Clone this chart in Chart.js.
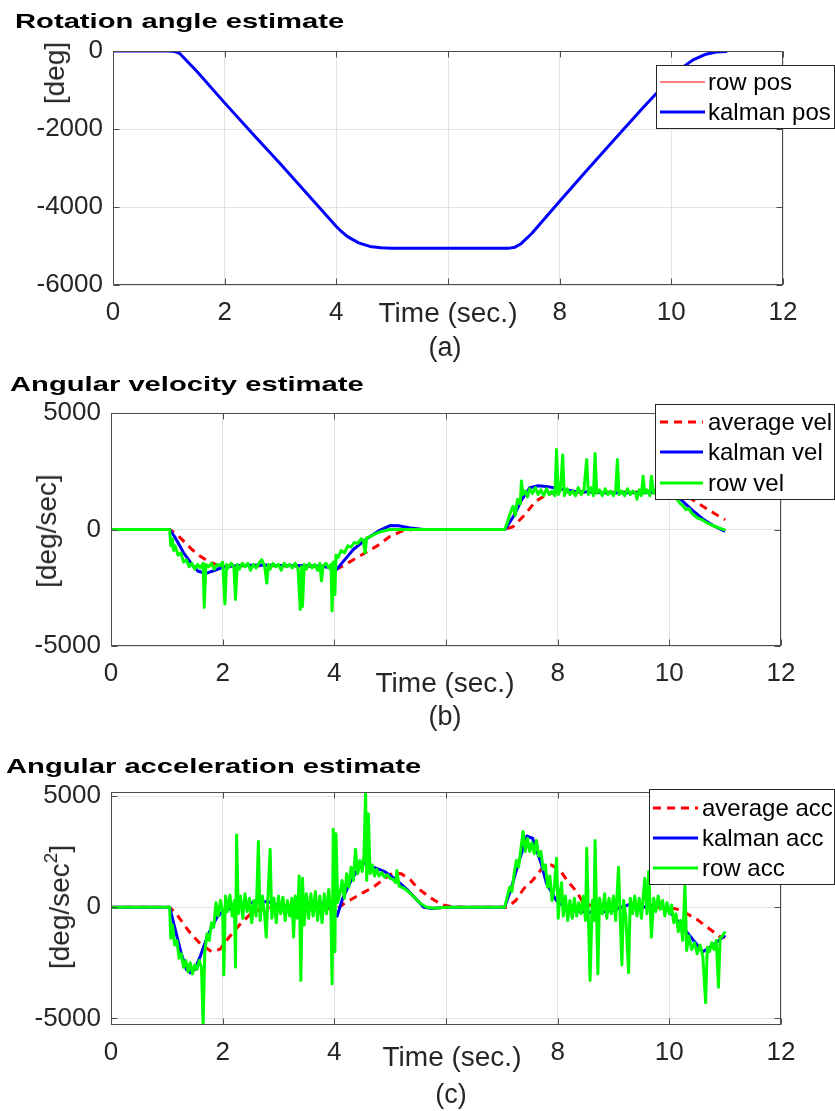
<!DOCTYPE html>
<html>
<head>
<meta charset="utf-8">
<script src="https://cdn.jsdelivr.net/npm/chart.js@4.4.0/dist/chart.umd.min.js"></script>
<style>
html,body{margin:0;padding:0;background:#fff;width:835px;height:1111px;overflow:hidden;font-family:"Liberation Sans",Arial,sans-serif;}
canvas{position:absolute;left:0;}
.t{position:absolute;z-index:2;white-space:nowrap;line-height:1;}
.title{font-weight:bold;font-size:21px;color:#000;transform-origin:0 0;transform:scaleX(1.39);}
.xl{font-size:28px;color:#262626;transform:translate(-50%,-50%);}
.cap{font-size:27px;color:#262626;transform:translate(-50%,-50%);}
.yl{font-size:28px;color:#262626;transform:translate(-50%,-50%) rotate(-90deg);}
.yl sup{font-size:19px;line-height:0;position:relative;top:-2px;}
</style>
</head>
<body>
<canvas id="cA" width="835" height="370" style="top:0px"></canvas>
<canvas id="cB" width="835" height="370" style="top:370px"></canvas>
<canvas id="cC" width="835" height="371" style="top:740px"></canvas>

<div class="t title" style="left:15px;top:10px">Rotation angle estimate</div>
<div class="t yl" style="left:55px;top:73px">[deg]</div>
<div class="t xl" style="left:448px;top:313px">Time (sec.)</div>
<div class="t cap" style="left:445px;top:347px">(a)</div>

<div class="t title" style="left:10px;top:373px">Angular velocity estimate</div>
<div class="t yl" style="left:47px;top:531px">[deg/sec]</div>
<div class="t xl" style="left:445px;top:683px">Time (sec.)</div>
<div class="t cap" style="left:445px;top:716px">(b)</div>

<div class="t title" style="left:6px;top:755px">Angular acceleration estimate</div>
<div class="t yl" style="left:60px;top:907px">[deg/sec<sup>2</sup>]</div>
<div class="t xl" style="left:452px;top:1057px">Time (sec.)</div>
<div class="t cap" style="left:451px;top:1094px">(c)</div>

<script>
// ---------------- data ----------------
const xTicks = [0, 2, 4, 6, 8, 10, 12];
const xTickLabels = ['0', '2', '4', '', '8', '10', '12'];
const posTicks = [-6000, -4000, -2000, 0];
const velTicks = [-5000, 0, 5000];
const accTicks = [-5000, 0, 5000];

const posNames = ['row pos', 'kalman pos'];
const velNames = ['average vel', 'kalman vel', 'row vel'];
const accNames = ['average acc', 'kalman acc', 'row acc'];

// (a) rotation angle [time, deg]
const kalmanPos = [[0,0],[1.0,0],[1.1,-10],[1.2,-70],[1.5,-520],[2.0,-1330],[2.5,-2120],[3.0,-2900],[3.5,-3700],[4.0,-4500],[4.1,-4640],[4.2,-4760],[4.4,-4920],[4.6,-5010],[4.8,-5045],[5.0,-5055],[6.0,-5055],[7.1,-5055],[7.2,-5030],[7.3,-4950],[7.5,-4680],[8.0,-3850],[8.5,-3040],[9.0,-2240],[9.5,-1440],[10.0,-680],[10.2,-420],[10.4,-220],[10.6,-90],[10.8,-25],[11.0,-10]];
const rowPos = [[0,0],[1.0,0],[1.1,-10],[1.2,-70],[1.5,-520],[2.0,-1330],[2.5,-2120],[3.0,-2900],[3.5,-3700],[4.0,-4500],[4.1,-4640],[4.2,-4760],[4.4,-4920],[4.6,-5010],[4.8,-5045],[5.0,-5055],[6.0,-5055],[7.1,-5055],[7.2,-5030],[7.3,-4950],[7.5,-4680],[8.0,-3850],[8.5,-3040],[9.0,-2240],[9.5,-1440],[10.0,-680],[10.2,-420],[10.4,-220],[10.6,-90],[10.8,-25],[11.0,-10]];

// (b) angular velocity [time, deg/sec]
const avgVel = [[0,0],[1.05,0],[1.2,-250],[1.3,-500],[1.45,-860],[1.6,-1150],[1.75,-1380],[1.9,-1520],[2.0,-1550],[2.5,-1560],[3.0,-1560],[3.5,-1570],[3.9,-1600],[4.02,-1730],[4.2,-1500],[4.4,-1215],[4.76,-715],[5.0,-290],[5.2,-80],[5.4,0],[7.05,0],[7.2,120],[7.4,600],[7.6,1200],[7.8,1500],[8.0,1620],[8.5,1600],[9.0,1600],[9.5,1600],[10.0,1620],[10.2,1550],[10.4,1300],[10.6,1000],[10.8,700],[11.0,420]];
const kalmanVel = [[0,0],[1.05,0],[1.15,-350],[1.3,-1000],[1.45,-1500],[1.56,-1790],[1.7,-1880],[1.85,-1760],[2.0,-1620],[2.3,-1540],[2.7,-1520],[3.0,-1540],[3.5,-1560],[3.8,-1580],[4.04,-1720],[4.15,-1400],[4.34,-860],[4.58,-400],[4.8,-50],[5.0,170],[5.15,160],[5.36,70],[5.6,0],[7.06,0],[7.21,570],[7.36,1290],[7.5,1790],[7.65,1880],[7.8,1850],[8.0,1760],[8.3,1640],[8.8,1580],[9.3,1580],[9.8,1600],[10.05,1560],[10.2,1300],[10.4,850],[10.6,450],[10.8,150],[11.0,-80]];
const rowVel = [[0,0],[1.05,0],[1.07,-700],[1.1,-400],[1.12,-900],[1.15,-700],[1.2,-1100],[1.25,-1000],[1.3,-1400],[1.35,-1300],[1.4,-1600],[1.45,-1450],[1.5,-1700],[1.55,-1500],[1.6,-1650],[1.65,-1450],[1.67,-3350],[1.7,-1500],[1.75,-1600],[1.8,-1450],[1.85,-1700],[1.9,-1500],[1.95,-1550],[2.0,-1400],[2.04,-3200],[2.07,-1500],[2.1,-1650],[2.15,-1450],[2.2,-1600],[2.23,-3000],[2.26,-1500],[2.3,-1700],[2.35,-1450],[2.4,-1600],[2.45,-1450],[2.5,-1750],[2.55,-1500],[2.6,-1650],[2.65,-1450],[2.7,-1300],[2.75,-1550],[2.79,-2300],[2.82,-1500],[2.85,-1700],[2.9,-1450],[2.95,-1600],[3.0,-1500],[3.05,-1750],[3.1,-1450],[3.15,-1600],[3.2,-1500],[3.25,-1650],[3.3,-1450],[3.35,-1700],[3.39,-3430],[3.41,-1600],[3.43,-3300],[3.46,-1500],[3.5,-1700],[3.55,-1450],[3.6,-1650],[3.65,-1500],[3.7,-1750],[3.74,-1450],[3.77,-2200],[3.8,-1550],[3.85,-1450],[3.9,-1650],[3.94,-1500],[3.96,-3500],[3.98,-1400],[4.01,-2800],[4.03,-1100],[4.07,-1200],[4.12,-900],[4.18,-1000],[4.24,-700],[4.3,-750],[4.36,-550],[4.42,-600],[4.48,-400],[4.52,-450],[4.55,-1000],[4.58,-350],[4.65,-300],[4.72,-200],[4.8,-120],[4.9,-50],[5.0,0],[7.05,0],[7.1,300],[7.15,700],[7.2,1000],[7.24,600],[7.28,1300],[7.33,1100],[7.35,2080],[7.38,1500],[7.42,1650],[7.46,1400],[7.5,1750],[7.55,1550],[7.6,1800],[7.65,1500],[7.7,1700],[7.75,1450],[7.8,1750],[7.85,1500],[7.9,1650],[7.95,1450],[7.98,3430],[8.01,1500],[8.05,1700],[8.09,3200],[8.12,1450],[8.17,1750],[8.22,1500],[8.27,1650],[8.32,1450],[8.37,1800],[8.42,1500],[8.47,1700],[8.52,3000],[8.55,1500],[8.6,1800],[8.64,1450],[8.67,3260],[8.7,1550],[8.75,1700],[8.8,1450],[8.85,1750],[8.9,1500],[8.95,1650],[9.0,1450],[9.04,1700],[9.07,3000],[9.1,1500],[9.15,1650],[9.2,1450],[9.25,1750],[9.3,1500],[9.35,1650],[9.4,1550],[9.42,1300],[9.46,1700],[9.5,1450],[9.53,2290],[9.56,1550],[9.6,1700],[9.65,1450],[9.68,2290],[9.72,1550],[9.77,1750],[9.82,1500],[9.87,1650],[9.92,1450],[9.97,1700],[10.0,1550],[10.05,1600],[10.1,1400],[10.15,1250],[10.2,1100],[10.25,1000],[10.3,850],[10.35,900],[10.4,700],[10.45,600],[10.5,500],[10.6,400],[10.7,250],[10.8,150],[10.9,60],[11.0,-30]];

// (c) angular acceleration [time, deg/sec^2]
const avgAcc = [[0,0],[1.05,0],[1.2,-400],[1.4,-1100],[1.6,-1650],[1.8,-2000],[1.95,-1900],[2.1,-1400],[2.3,-800],[2.5,-300],[2.7,-50],[3.0,0],[3.5,0],[3.9,-50],[4.0,-150],[4.2,200],[4.5,630],[4.7,900],[4.88,1250],[5.05,1540],[5.2,1500],[5.36,1230],[5.5,850],[5.65,555],[5.8,300],[5.95,100],[6.1,20],[6.3,0],[7.1,0],[7.25,300],[7.4,850],[7.55,1200],[7.74,1800],[7.88,1900],[8.04,1670],[8.2,1100],[8.34,700],[8.46,180],[8.7,0],[9.0,0],[9.5,0],[10.0,0],[10.15,-100],[10.31,-285],[10.5,-560],[10.67,-885],[10.9,-1320],[11.0,-1350]];
const kalmanAcc = [[0,0],[1.05,0],[1.15,-1000],[1.25,-2000],[1.35,-2800],[1.42,-2950],[1.5,-2800],[1.6,-2200],[1.7,-1500],[1.8,-900],[1.9,-450],[2.0,-200],[2.2,0],[2.5,200],[2.8,250],[3.0,100],[3.3,0],[3.6,100],[3.85,200],[4.0,-300],[4.05,-400],[4.15,400],[4.3,1200],[4.45,1800],[4.55,2000],[4.7,1800],[4.9,1600],[5.1,1250],[5.3,800],[5.45,400],[5.6,0],[5.75,-60],[6.0,0],[7.05,0],[7.15,700],[7.3,2000],[7.45,3200],[7.55,3100],[7.62,2570],[7.7,2000],[7.8,1070],[7.98,290],[8.22,-135],[8.4,-200],[8.7,-250],[9.0,-135],[9.3,135],[9.6,0],[9.8,150],[9.95,-50],[10.19,-735],[10.43,-1490],[10.6,-2010],[10.79,-1700],[11.0,-1260]];
const rowAcc = [[0,0],[1.05,0],[1.07,-1400],[1.1,-800],[1.14,-1700],[1.18,-1500],[1.22,-2300],[1.26,-2100],[1.3,-2700],[1.34,-2400],[1.38,-2900],[1.42,-2500],[1.46,-3000],[1.5,-2600],[1.54,-2800],[1.58,-2400],[1.62,-2700],[1.65,-5300],[1.68,-2000],[1.72,-1200],[1.76,-1500],[1.8,-700],[1.84,-900],[1.88,200],[1.92,-400],[1.96,300],[2.0,-200],[2.02,-3050],[2.05,500],[2.09,-200],[2.13,550],[2.17,-400],[2.21,300],[2.23,-2700],[2.25,3250],[2.28,-300],[2.32,500],[2.36,-500],[2.4,600],[2.44,-200],[2.48,400],[2.52,-700],[2.56,300],[2.6,-400],[2.64,2950],[2.67,-600],[2.71,500],[2.75,-300],[2.78,-1350],[2.81,400],[2.85,2600],[2.88,-500],[2.92,400],[2.96,-700],[3.0,500],[3.04,-300],[3.08,450],[3.12,-600],[3.16,300],[3.2,-400],[3.24,400],[3.27,-1350],[3.3,500],[3.34,-500],[3.37,1400],[3.4,-3300],[3.43,1300],[3.46,-800],[3.5,600],[3.54,-500],[3.58,600],[3.62,-400],[3.66,700],[3.7,-600],[3.74,500],[3.78,-700],[3.82,600],[3.86,-300],[3.9,800],[3.94,-400],[3.96,-3450],[3.98,3500],[4.01,-2000],[4.03,3300],[4.06,200],[4.1,600],[4.14,1200],[4.18,400],[4.22,1500],[4.26,900],[4.3,1800],[4.34,1200],[4.38,2600],[4.42,1500],[4.46,2100],[4.5,1600],[4.53,2300],[4.56,5200],[4.58,1200],[4.61,4200],[4.64,1500],[4.68,1900],[4.72,1400],[4.76,1700],[4.8,1400],[4.85,1550],[4.9,1350],[4.95,1450],[5.0,1300],[5.05,1250],[5.1,1100],[5.12,1650],[5.16,950],[5.25,850],[5.35,650],[5.45,400],[5.55,150],[5.65,0],[5.8,-50],[6.0,0],[7.05,0],[7.1,500],[7.14,900],[7.18,700],[7.22,1500],[7.26,2100],[7.3,1800],[7.34,2600],[7.38,3400],[7.42,2500],[7.46,3100],[7.5,2500],[7.54,2900],[7.58,2400],[7.62,3000],[7.66,2300],[7.7,2500],[7.74,1700],[7.78,1900],[7.82,900],[7.86,1400],[7.9,300],[7.94,900],[7.98,2200],[8.01,-500],[8.04,600],[8.07,1100],[8.1,-400],[8.14,500],[8.18,-600],[8.22,300],[8.26,-500],[8.3,400],[8.34,-400],[8.38,200],[8.42,-300],[8.46,500],[8.5,-600],[8.52,2650],[8.55,-400],[8.58,-3300],[8.62,300],[8.65,-600],[8.67,3000],[8.72,-3000],[8.75,400],[8.8,-300],[8.84,600],[8.88,-500],[8.92,400],[8.96,-300],[9.0,500],[9.04,-600],[9.09,1800],[9.12,-500],[9.15,-2600],[9.18,300],[9.22,-400],[9.27,-2950],[9.3,400],[9.34,-300],[9.38,500],[9.42,-400],[9.46,400],[9.5,-500],[9.56,1300],[9.6,-300],[9.63,1600],[9.68,-1350],[9.72,400],[9.76,-200],[9.8,500],[9.84,-100],[9.88,300],[9.92,-400],[9.96,200],[10.0,-300],[10.04,100],[10.08,-700],[10.12,-300],[10.16,-1100],[10.2,-600],[10.24,-1500],[10.28,1000],[10.31,-1950],[10.35,-1300],[10.4,-1900],[10.45,-1600],[10.5,-2100],[10.55,-1700],[10.6,-2200],[10.65,-4300],[10.68,-1800],[10.72,-2000],[10.76,-1600],[10.8,-1900],[10.84,-1500],[10.88,-3600],[10.91,-1400],[10.95,-1300],[11.0,-1100]];

// ---------------- helpers ----------------
const BLUE = '#0000ff', RED = '#ff0000', GREEN = '#00ff00';
const FONT = '"Liberation Sans", Arial, sans-serif';
const xy = pts => pts.map(([x, y]) => ({x, y}));

const matFrame = {
  id: 'matFrame',
  afterDraw(chart) {
    const {ctx, chartArea: a, scales: {x, y}} = chart;
    const L = Math.round(a.left) + 0.5, R = Math.round(a.right) - 0.5;
    const T = Math.round(a.top) + 0.5, B = Math.round(a.bottom) - 0.5;
    ctx.save();
    ctx.strokeStyle = '#4d4d4d';
    ctx.lineWidth = 1;
    ctx.beginPath();
    x.ticks.forEach(t => {
      const px = Math.round(x.getPixelForValue(t.value)) + 0.5;
      ctx.moveTo(px, B); ctx.lineTo(px, B - 6);
      ctx.moveTo(px, T); ctx.lineTo(px, T + 6);
    });
    y.ticks.forEach(t => {
      const py = Math.round(y.getPixelForValue(t.value)) + 0.5;
      ctx.moveTo(L, py); ctx.lineTo(L + 6, py);
      ctx.moveTo(R, py); ctx.lineTo(R - 6, py);
    });
    ctx.stroke();
    ctx.strokeRect(L, T, R - L, B - T);
    ctx.restore();
  }
};

const matLegend = {
  id: 'matLegend',
  afterDraw(chart, args, o) {
    if (!o || !o.box) return;
    const {ctx} = chart;
    const [x0, y0, x1, y1] = o.box;
    ctx.save();
    ctx.fillStyle = '#ffffff';
    ctx.fillRect(x0, y0, x1 - x0, y1 - y0);
    ctx.strokeStyle = '#262626';
    ctx.lineWidth = 1;
    ctx.strokeRect(x0 + 0.5, y0 + 0.5, x1 - x0 - 1, y1 - y0 - 1);
    o.order.forEach((di, k) => {
      const ds = chart.data.datasets[di];
      const yy = o.rows[k];
      ctx.beginPath();
      ctx.strokeStyle = ds.borderColor;
      ctx.lineWidth = ds.borderWidth;
      ctx.setLineDash(ds.borderDash || []);
      ctx.moveTo(o.line[0], yy);
      ctx.lineTo(o.line[1], yy);
      ctx.stroke();
      ctx.setLineDash([]);
      ctx.fillStyle = '#000000';
      ctx.font = '24px ' + FONT;
      ctx.textBaseline = 'middle';
      ctx.textAlign = 'left';
      ctx.fillText(ds.label, o.textX, yy + 1);
    });
    ctx.restore();
  }
};

function makeChart(id, H, area, yTicks, yMin, yMax, datasets, legend) {
  const W = 835;
  return new Chart(document.getElementById(id), {
    type: 'line',
    data: {datasets},
    options: {
      responsive: false,
      animation: false,
      events: [],
      layout: {autoPadding: false, padding: {left: 0, right: W - area.right, top: area.top, bottom: 0}},
      elements: {point: {radius: 0}, line: {tension: 0, borderJoinStyle: 'round', borderCapStyle: 'butt'}},
      plugins: {legend: {display: false}, tooltip: {enabled: false}, title: {display: false}, matLegend: legend},
      scales: {
        x: {
          type: 'linear', min: 0, max: 12,
          afterBuildTicks: s => { s.ticks = xTicks.map(v => ({value: v})); },
          afterFit: s => { s.height = H - area.bottom; },
          ticks: {
            autoSkip: false, maxRotation: 0, padding: 12, color: '#262626',
            font: {family: FONT, size: 26},
            callback: (v) => xTickLabels[xTicks.indexOf(v)]
          },
          grid: {color: '#e3e3e3', lineWidth: 1, drawTicks: false},
          border: {display: false}
        },
        y: {
          type: 'linear', min: yMin, max: yMax,
          afterBuildTicks: s => { s.ticks = yTicks.map(v => ({value: v})); },
          afterFit: s => { s.width = area.left; },
          ticks: {padding: 10, color: '#262626', font: {family: FONT, size: 26}, callback: v => String(v)},
          grid: {color: '#e3e3e3', lineWidth: 1, drawTicks: false},
          border: {display: false}
        }
      }
    },
    plugins: [matFrame, matLegend]
  });
}

function line(label, pts, color, width, order, dash) {
  return {label, data: xy(pts), borderColor: color, borderWidth: width, borderDash: dash || [], order, fill: false, pointRadius: 0};
}

// (a)
makeChart('cA', 370, {left: 113, right: 783, top: 51, bottom: 285}, posTicks, -6000, 0, [
  line(posNames[0], rowPos, RED, 1, 2),
  line(posNames[1], kalmanPos, BLUE, 3, 1)
], {box: [656, 65, 835, 129], rows: [82, 112], line: [660, 705], textX: 708, order: [0, 1]});

// (b)
makeChart('cB', 370, {left: 111, right: 781, top: 43, bottom: 276}, velTicks, -5000, 5000, [
  line(velNames[0], avgVel, RED, 3, 3, [8, 6]),
  line(velNames[1], kalmanVel, BLUE, 3, 2),
  line(velNames[2], rowVel, GREEN, 3, 1)
], {box: [655, 34, 835, 130], rows: [52, 82, 113], line: [660, 703], textX: 708, order: [0, 1, 2]});

// (c)
makeChart('cC', 371, {left: 111, right: 781, top: 52, bottom: 285}, accTicks, -5300, 5180, [
  line(accNames[0], avgAcc, RED, 3, 3, [8, 6]),
  line(accNames[1], kalmanAcc, BLUE, 3, 2),
  line(accNames[2], rowAcc, GREEN, 3, 1)
], {box: [649, 49, 835, 145], rows: [68, 98, 128], line: [653, 698], textX: 702, order: [0, 1, 2]});
</script>
</body>
</html>
